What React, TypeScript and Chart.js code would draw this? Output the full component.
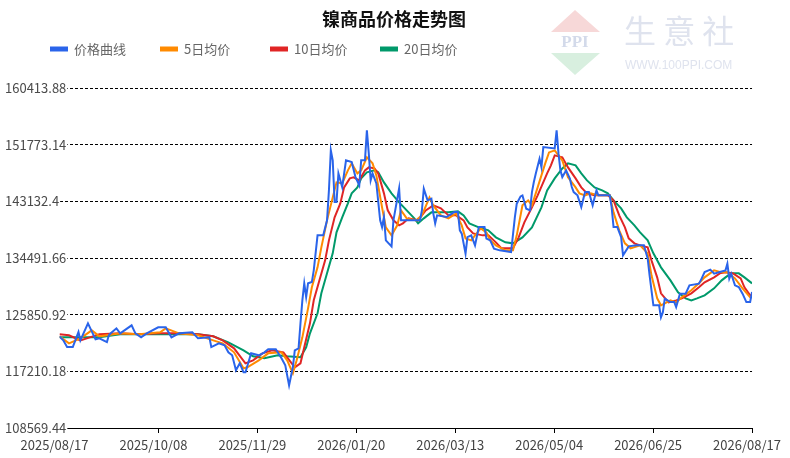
import React, { useEffect, useRef } from 'react';
import { Chart, registerables } from 'chart.js';

Chart.register(...registerables);

const TITLE = '镍商品价格走势图';
const seriesNames = ['价格曲线', '5日均价', '10日均价', '20日均价'];
const seriesColors = ['#2a64ea', '#ff8a00', '#e02525', '#00996a'];
const xTickLabels = ['2025/08/17', '2025/10/08', '2025/11/29', '2026/01/20', '2026/03/13', '2026/05/04', '2026/06/25', '2026/08/17'];
const DAY_SPAN = 365;
const yTickValues = [108569.44, 117210.18, 125850.92, 134491.66, 143132.4, 151773.14, 160413.88];
const yTickLabels = ['108569.44', '117210.18', '125850.92', '134491.66', '143132.4', '151773.14', '160413.88'];

// [day offset from 2025/08/17, price]
const pricePoints: [number, number][] = [
  [0,122547],[2,121937],[4,120916],[7,120916],[10,123202],[11,121937],[15,124529],[19,122089],[21,122242],[25,121678],
  [26,122699],[27,123004],[30,123766],[32,123004],[38,124224],[40,123004],[43,122394],[46,123004],[52,123919],[56,123919],
  [59,122394],[63,123004],[70,123157],[73,122242],[79,122394],[80,120916],[84,121480],[87,121175],[89,120108],[91,119650],
  [93,117363],[95,118431],[97,117059],[98,117059],[101,119955],[105,119650],[108,120108],[110,120565],[114,120565],[117,119193],
  [119,118126],[121,115077],[123,117867],[124,120412],[126,120717],[127,124529],[128,128035],[129,130627],[130,128538],[131,130627],
  [133,130825],[134,132608],[136,137944],[139,137944],[141,140231],[142,144804],[143,150902],[144,149378],[145,143021],[146,143021],
  [147,147396],[149,145308],[151,149378],[154,149119],[156,146832],[158,145567],[159,149378],[161,149378],[162,153951],[163,150445],
  [164,146329],[165,147396],[167,145872],[169,140231],[170,139210],[171,140734],[172,137182],[175,136267],[176,140231],[179,145109],
  [180,140231],[190,140231],[191,141755],[192,145064],[194,143280],[196,143539],[197,141298],[198,139774],[199,140993],[204,140734],
  [208,141496],[210,141496],[211,138706],[212,138203],[214,135154],[215,137685],[217,137944],[219,136420],[221,139210],[224,139210],
  [225,137441],[227,137182],[229,135917],[232,135657],[238,135398],[240,140734],[241,142777],[243,143890],[244,144042],[246,142015],
  [248,141755],[249,144545],[250,146070],[251,147350],[253,149637],[254,148357],[255,151406],[261,151207],[262,153951],[263,150399],
  [264,147853],[265,146832],[267,147853],[269,146588],[270,145308],[271,144545],[273,144042],[275,142259],[277,144545],[279,144545],
  [281,142518],[283,144804],[284,144042],[290,144042],[291,142259],[292,139210],[294,139210],[296,137685],[297,134895],[300,136267],
  [304,136420],[308,136420],[310,134438],[311,131846],[313,127273],[316,127273],[317,125443],[318,126206],[319,128294],[322,127776],
  [324,127776],[325,127013],[327,129056],[330,129056],[332,130322],[337,130581],[338,131084],[340,132349],[343,132715],[345,132105],
  [348,132349],[351,132608],[352,133630],[353,131343],[354,132105],[356,130322],[358,130063],[360,129056],[362,127776],[364,127776],
  [365,129300],
];

const ma5Points: [number, number][] = [
  [0,122547],[5,121480],[11,122242],[17,123461],[21,122547],[32,123004],[42,122852],[53,123157],[56,123766],[63,123004],
  [73,122699],[81,121937],[86,121480],[92,120108],[97,117668],[99,117821],[105,118888],[110,119955],[117,120108],[120,118888],
  [123,116906],[125,118888],[128,122394],[131,126815],[133,130017],[136,133066],[138,136115],[141,140231],[144,143737],[146,146024],
  [149,145872],[152,147853],[154,148920],[157,147396],[159,147853],[162,149835],[165,148920],[167,147091],[170,142213],[172,139164],
  [175,137944],[178,139469],[180,141755],[183,140536],[188,140231],[191,140993],[195,143737],[197,142518],[201,140993],[205,140536],
  [209,141298],[212,139469],[214,137487],[217,137182],[219,137944],[222,139011],[225,138401],[227,137182],[230,136420],[235,135657],
  [239,135657],[241,137944],[244,142518],[247,143280],[249,142518],[252,145262],[256,148920],[258,150593],[261,150903],[265,149378],
  [268,146786],[272,145262],[274,144347],[277,144042],[280,144347],[284,144042],[290,144042],[292,141450],[295,138706],[298,136724],
  [301,135962],[306,136420],[310,135201],[312,131846],[315,128340],[317,127273],[322,128035],[325,127730],[328,128493],[333,129560],
  [337,130627],[340,131541],[345,132608],[349,132303],[352,132303],[356,131389],[360,129864],[364,128493],[365,128493],
];

const ma10Points: [number, number][] = [
  [0,122852],[5,122699],[11,121937],[16,122394],[21,122852],[32,123004],[42,122852],[53,123004],[63,123004],[73,122852],
  [81,122547],[86,121937],[92,120718],[98,118431],[102,118888],[107,119955],[112,120413],[118,120108],[120,119346],[124,117821],
  [127,118431],[129,120870],[132,124529],[134,128035],[137,131084],[140,134133],[142,137182],[145,140688],[148,142822],[150,145262],
  [153,146634],[155,146786],[158,146329],[161,147853],[163,148311],[166,148158],[168,147396],[171,144347],[173,141755],[176,140231],
  [179,139469],[181,139774],[184,140536],[189,140231],[193,141755],[197,142518],[201,142060],[205,140993],[209,140993],[213,140231],
  [215,139164],[218,138249],[223,137944],[226,137944],[230,136877],[233,135962],[239,135962],[242,137639],[245,139926],[249,142213],
  [252,144042],[257,147396],[259,148616],[261,150140],[265,149835],[268,148311],[272,146634],[275,145262],[278,144347],[282,144042],
  [289,144042],[292,143280],[295,140993],[298,139164],[300,137487],[303,136724],[306,136420],[310,136115],[312,134133],[315,131541],
  [317,129101],[321,127730],[325,128035],[328,128340],[333,129101],[337,130017],[340,130779],[345,131541],[348,132151],[351,132303],
  [355,132151],[359,131389],[361,130017],[364,128797],[365,128797],
];

const ma20Points: [number, number][] = [
  [0,122394],[21,122394],[32,122852],[53,122852],[73,122852],[81,122547],[89,121632],[97,120413],[102,119498],[108,119193],
  [115,119650],[120,119498],[127,119346],[130,120870],[132,123004],[136,126055],[138,129104],[141,132153],[144,135202],[146,138402],
  [149,140688],[152,142822],[154,144347],[157,145262],[159,146634],[162,147549],[166,147853],[168,147549],[171,146024],[175,144347],
  [179,142975],[183,141755],[187,140536],[189,139774],[192,140536],[196,141450],[200,141450],[205,141450],[210,141603],[213,140993],
  [216,139774],[221,139164],[226,138706],[230,137639],[235,136877],[239,136724],[244,137639],[249,139164],[254,142213],[257,144804],
  [261,146634],[265,148158],[268,148920],[272,148616],[275,147396],[278,146329],[282,145262],[286,144804],[289,144347],[292,143280],
  [296,142060],[299,140688],[303,139469],[306,138402],[310,137182],[313,135202],[317,133066],[322,131084],[326,129255],[330,128340],
  [333,128035],[336,128340],[340,128797],[345,129864],[349,131084],[351,131541],[354,132151],[358,132151],[361,131541],[365,130627],
];

const FONT = '"Noto Sans CJK SC", "Noto Sans", sans-serif';

const decorPlugin = {
  id: 'decor',
  beforeDraw(chart: any) {
    const ctx = chart.ctx as CanvasRenderingContext2D;
    ctx.save();
    // watermark logo
    ctx.fillStyle = '#f7d8d8';
    ctx.beginPath();
    ctx.moveTo(575, 10);
    ctx.lineTo(600, 32);
    ctx.lineTo(551, 32);
    ctx.closePath();
    ctx.fill();
    ctx.fillStyle = '#d8efdf';
    ctx.beginPath();
    ctx.moveTo(551, 53);
    ctx.lineTo(600, 53);
    ctx.lineTo(575, 75);
    ctx.closePath();
    ctx.fill();
    ctx.fillStyle = '#d3daea';
    ctx.font = 'bold 17px "Liberation Serif", serif';
    ctx.textAlign = 'center';
    ctx.textBaseline = 'middle';
    ctx.fillText('PPI', 575, 43);
    ctx.fillStyle = '#dfe3ee';
    ctx.font = '32px ' + FONT;
    ctx.textAlign = 'left';
    ctx.fillText('生 意 社', 624, 31);
    ctx.font = '12px "Liberation Sans", sans-serif';
    ctx.fillStyle = '#dfe3ee';
    ctx.fillText('WWW.100PPI.COM', 625, 66);
    ctx.restore();
  },
  afterDraw(chart: any) {
    const ctx = chart.ctx as CanvasRenderingContext2D;
    ctx.save();
    ctx.fillStyle = '#111';
    ctx.font = 'bold 18px ' + FONT;
    ctx.textAlign = 'center';
    ctx.textBaseline = 'middle';
    ctx.fillText(TITLE, 394, 19);
    const starts = [50, 160, 270, 380];
    ctx.font = '13px ' + FONT;
    ctx.textAlign = 'left';
    chart.data.datasets.forEach((ds: any, i: number) => {
      const x = starts[i];
      ctx.fillStyle = ds.borderColor;
      ctx.beginPath();
      ctx.rect(x, 46.5, 18, 5);
      ctx.fill();
      ctx.fillStyle = '#666';
      ctx.fillText(ds.label, x + 24, 49);
    });
    ctx.restore();
  },
};

export default function App() {
  const ref = useRef<HTMLCanvasElement>(null);
  useEffect(() => {
    document.body.style.margin = '0';
    const toXY = (pts: [number, number][]) => pts.map(([x, y]) => ({ x, y }));
    const series = [pricePoints, ma5Points, ma10Points, ma20Points];
    const chart = new Chart(ref.current as HTMLCanvasElement, {
      type: 'line',
      data: {
        datasets: series.map((pts, i) => ({
          label: seriesNames[i],
          data: toXY(pts),
          borderColor: seriesColors[i],
          backgroundColor: seriesColors[i],
          borderWidth: 2,
          pointRadius: 0,
          tension: 0,
          fill: false,
        })),
      },
      options: {
        responsive: false,
        animation: false,
        layout: { padding: { left: 5, top: 88, right: 29, bottom: 0 } },
        plugins: {
          legend: { display: false },
          title: { display: false },
          tooltip: { enabled: false },
        },
        scales: {
          x: {
            type: 'linear',
            min: 0,
            max: DAY_SPAN,
            afterBuildTicks: (scale: any) => {
              scale.ticks = xTickLabels.map((_, i) => ({ value: (i * DAY_SPAN) / 7 }));
            },
            afterFit: (scale: any) => {
              scale.height = 30;
            },
            ticks: {
              autoSkip: false,
              maxRotation: 0,
              minRotation: 0,
              padding: 4,
              labelOffset: -5,
              color: '#444',
              font: { family: FONT, size: 13 },
              callback: (_v: any, i: number) => xTickLabels[i],
            },
            grid: {
              drawOnChartArea: false,
              drawTicks: true,
              tickLength: 5,
              color: '#000',
            },
            border: { display: true, color: '#000', width: 1 },
          },
          y: {
            type: 'linear',
            min: yTickValues[0],
            max: yTickValues[yTickValues.length - 1],
            afterBuildTicks: (scale: any) => {
              scale.ticks = yTickValues.map((v) => ({ value: v }));
            },
            afterFit: (scale: any) => {
              scale.width = 54.5;
            },
            ticks: {
              mirror: true,
              crossAlign: 'near',
              padding: -54.5,
              color: '#4a4a4a',
              font: { family: FONT, size: 13 },
              showLabelBackdrop: true,
              backdropColor: '#ffffff',
              backdropPadding: { left: 0, right: 1, top: 0, bottom: 0 },
              callback: (_v: any, i: number) => yTickLabels[i],
            },
            grid: {
              drawTicks: false,
              color: (c: any) => (c.index === 0 ? 'rgba(0,0,0,0)' : '#000'),
              lineWidth: 1,
            },
            border: { display: false, dash: [3, 2] },
          },
        },
      },
      plugins: [decorPlugin],
    } as any);
    return () => chart.destroy();
  }, []);
  return (
    <div style={{ width: 790, height: 458 }}>
      <canvas ref={ref} width={790} height={458} style={{ display: 'block' }} />
    </div>
  );
}
